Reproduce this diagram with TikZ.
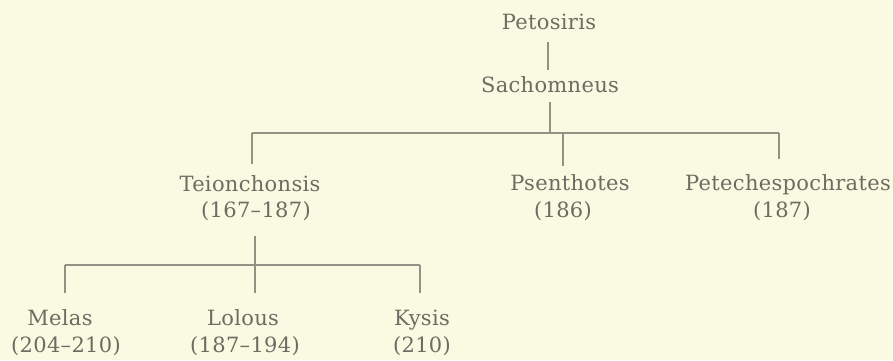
\documentclass[tikz,border=0pt]{standalone}
\usepackage{fontspec}
\setmainfont{DejaVu Serif}[LetterSpace=1.5]
\usetikzlibrary{calc}
\definecolor{paper}{RGB}{250,250,226}
\definecolor{ink}{RGB}{108,108,98}
\definecolor{rule}{RGB}{145,145,132}
\begin{document}
\begin{tikzpicture}[x=1pt,y=-1pt,
  lbl/.style={font=\fontsize{21}{25}\selectfont, text=ink, inner sep=0pt,
              text height=15pt, text depth=0pt, anchor=base},
  dlbl/.style={lbl, text depth=5pt},
  conn/.style={draw=rule, line width=1.1pt}]
\fill[paper] (0,0) rectangle (893,360);
\useasboundingbox (0,0) rectangle (893,360);
% nodes
\node[lbl] (petos) at (549,29) {Petosiris};
\node[lbl] (sach) at (550,92) {Sachomneus};
\node[lbl] (teion) at (250,191) {Teionchonsis};
\node[dlbl] (teiond) at (256,217) {(167–187)};
\node[lbl] (psen) at (570,190) {Psenthotes};
\node[dlbl] (psend) at (563,217) {(186)};
\node[lbl] (petech) at (788,190) {Petechespochrates};
\node[dlbl] (petechd) at (782,217) {(187)};
\node[lbl] (melas) at (60,325) {Melas};
\node[dlbl] (melasd) at (66,352) {(204–210)};
\node[lbl] (lolous) at (243,325) {Lolous};
\node[dlbl] (lolousd) at (245,352) {(187–194)};
\node[lbl] (kysis) at (422,325) {Kysis};
\node[dlbl] (kysisd) at (422,352) {(210)};
% junction coordinates
\coordinate (top) at (548,42);
\coordinate (bar) at (550,133);
\coordinate (b1) at (252,133);
\coordinate (b2) at (563,133);
\coordinate (b3) at (779,133);
\coordinate (low) at (255,265);
\coordinate (l1) at (65,265);
\coordinate (l3) at (420,265);
% connectors
\draw[conn] (top) -- (top |- {$(sach.north)+(0,-7)$});
\draw[conn] ($(sach.south)+(0,10)$) -- (bar);
\draw[conn] (b1) -- (b3);
\draw[conn] (b1) -- (b1 |- {$(teion.north)+(0,-12)$});
\draw[conn] (b2) -- (b2 |- {$(psen.north)+(0,-9)$});
\draw[conn] (b3) -- (b3 |- {$(petech.north)+(0,-16)$});
\draw[conn] (low |- {$(teiond.south)+(0,14)$}) -- (low);
\draw[conn] (l1) -- (l3);
\draw[conn] (l1) -- (l1 |- {$(melas.north)+(0,-17)$});
\draw[conn] (low) -- (low |- {$(lolous.north)+(0,-17)$});
\draw[conn] (l3) -- (l3 |- {$(kysis.north)+(0,-17)$});
\end{tikzpicture}
\end{document}
